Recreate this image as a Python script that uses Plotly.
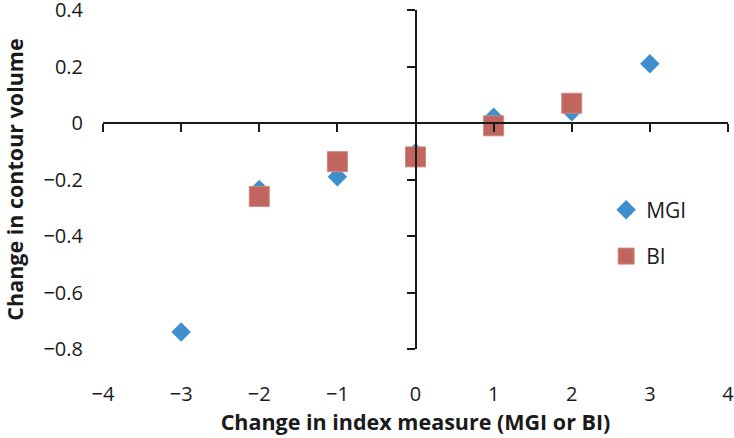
import plotly.graph_objects as go

mgi_x = [-3, -2, -1, 0, 1, 2, 3]
mgi_y = [-0.74, -0.235, -0.19, -0.105, 0.02, 0.04, 0.21]
bi_x = [-2, -1, 0, 1, 2]
bi_y = [-0.26, -0.137, -0.12, -0.01, 0.07]

x_ticks = [-4, -3, -2, -1, 0, 1, 2, 3, 4]
y_ticks = [-0.8, -0.6, -0.4, -0.2, 0, 0.2, 0.4]
x_range = [-4, 4]
y_range = [-0.8, 0.4]

BLUE = "#3F8FCF"
RED = "#C0665E"
FONT = "Open Sans"
TICKFONT = dict(family=FONT, size=20, color="#1a1a1a")

fig = go.Figure()
fig.add_trace(go.Scatter(x=mgi_x, y=mgi_y, mode="markers", name="MGI",
                         legendgroup="a",
                         marker=dict(symbol="diamond", size=15, color=BLUE,
                                     line=dict(width=0))))
fig.add_trace(go.Scatter(x=bi_x, y=bi_y, mode="markers", name="BI",
                         legendgroup="b", xaxis="x2", yaxis="y2",
                         marker=dict(symbol="square", size=20, color=RED,
                                     line=dict(width=1, color="#D08880"))))

y0_pos = (0 - y_range[0]) / (y_range[1] - y_range[0])
x0_pos = (0 - x_range[0]) / (x_range[1] - x_range[0])

fig.update_layout(
    width=734, height=438,
    margin=dict(l=103, r=6, t=10, b=89),
    paper_bgcolor="white", plot_bgcolor="white",
    font=dict(family=FONT, size=20, color="#1a1a1a"),
    showlegend=True,
    legend=dict(x=0.805, y=0.47, xanchor="left", yanchor="top",
                tracegroupgap=16, font=dict(size=21),
                bgcolor="rgba(0,0,0,0)"),
    xaxis=dict(range=x_range, tickvals=x_ticks, showgrid=False, zeroline=False,
               showline=False, ticks="", ticklabelstandoff=31, automargin=False,
               ticklabeloverflow="allow", tickfont=TICKFONT,
               title=dict(text="<b>Change in index measure (MGI or BI)</b>",
                          font=dict(size=21.5), standoff=6)),
    yaxis=dict(range=y_range, tickvals=y_ticks, showgrid=False, zeroline=False,
               showline=False, ticks="", ticklabelstandoff=19, automargin=False,
               ticklabeloverflow="allow", tickfont=TICKFONT,
               title=dict(text="<b>Change in contour volume</b>",
                          font=dict(size=21.5), standoff=24)),
    xaxis2=dict(range=x_range, tickvals=x_ticks, overlaying="x", anchor="free",
                position=y0_pos, side="bottom", showline=True, linecolor="#1a1a1a",
                linewidth=1.5, ticks="outside", ticklen=8, tickwidth=1.5,
                tickcolor="#1a1a1a", showticklabels=False, showgrid=False,
                zeroline=False, automargin=False),
    yaxis2=dict(range=y_range, tickvals=y_ticks, overlaying="y", anchor="free",
                position=x0_pos, side="left", showline=True, linecolor="#1a1a1a",
                linewidth=1.5, ticks="outside", ticklen=8, tickwidth=1.5,
                tickcolor="#1a1a1a", showticklabels=False, showgrid=False,
                zeroline=False, automargin=False),
)

fig.write_html("out.html", config={"displayModeBar": False},
               post_script="document.body.style.margin='0';document.body.style.overflow='hidden';")
